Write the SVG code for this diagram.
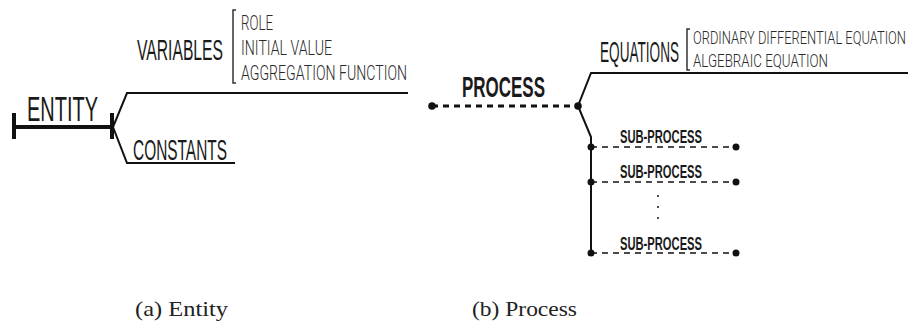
<svg xmlns="http://www.w3.org/2000/svg" width="910" height="331" viewBox="0 0 910 331">
<style>
.lbl{font-family:"Liberation Sans Narrow","Liberation Sans",sans-serif;fill:#1a1a1a}
.med{font-weight:400}
.bold{font-weight:700}
.lite{font-family:Roboto,"Liberation Sans",sans-serif;font-weight:300;fill:#2a2a2a}
.cap{font-family:"Liberation Serif",serif;fill:#222}
.ln{stroke:#111;stroke-width:2;fill:none}
.thick{stroke:#111;stroke-width:4;fill:none}
.brk{stroke:#333;stroke-width:1.5;fill:none}
.dash1{stroke:#111;stroke-width:3;stroke-dasharray:6 5;fill:none}
.dash2{stroke:#111;stroke-width:1.6;stroke-dasharray:6 5;fill:none}
.dot{fill:#111}
</style>
<g id="connectors">
  <line class="thick" x1="14" y1="127" x2="112" y2="127"/>
  <line class="thick" x1="14" y1="113" x2="14" y2="139"/>
  <line class="thick" x1="112" y1="113" x2="112" y2="139"/>
  <polyline class="ln" points="408,93 127,93 113,127 127,163 235,163"/>
  <path class="brk" d="M236,10 H233 V83 H236"/>
  <line class="dash1" x1="432" y1="106" x2="578" y2="106"/>
  <polyline class="ln" points="908,73 591,73 578,106 591,137 591,253"/>
  <path class="brk" d="M690,29 H687 V70 H690"/>
  <line class="dash2" x1="591" y1="147" x2="736" y2="147"/>
  <line class="dash2" x1="591" y1="182" x2="736" y2="182"/>
  <line class="dash2" x1="591" y1="253" x2="736" y2="253"/>
  <circle class="dot" cx="432" cy="106" r="3.8"/>
  <circle class="dot" cx="578" cy="106" r="3.8"/>
  <circle class="dot" cx="591" cy="147" r="3.5"/>
  <circle class="dot" cx="591" cy="182" r="3.5"/>
  <circle class="dot" cx="591" cy="253" r="3.5"/>
  <circle class="dot" cx="736" cy="147" r="3.5"/>
  <circle class="dot" cx="736" cy="182" r="3.5"/>
  <circle class="dot" cx="736" cy="253" r="3.5"/>
  <circle class="dot" cx="658" cy="196" r="1"/>
  <circle class="dot" cx="658" cy="207" r="1"/>
  <circle class="dot" cx="658" cy="218" r="1"/>
</g>
<g id="entity">
  <text class="lbl med" x="27" y="121" font-size="35" textLength="71" lengthAdjust="spacingAndGlyphs">ENTITY</text>
</g>
<g id="variables">
  <text class="lbl med" x="137" y="60" font-size="30" textLength="86" lengthAdjust="spacingAndGlyphs">VARIABLES</text>
  <text class="lite" x="241" y="30" font-size="20" textLength="32" lengthAdjust="spacingAndGlyphs">ROLE</text>
  <text class="lite" x="241" y="55" font-size="20" textLength="91" lengthAdjust="spacingAndGlyphs">INITIAL VALUE</text>
  <text class="lite" x="241" y="80" font-size="20" textLength="166" lengthAdjust="spacingAndGlyphs">AGGREGATION  FUNCTION</text>
</g>
<g id="constants">
  <text class="lbl med" x="133" y="160" font-size="29" textLength="94" lengthAdjust="spacingAndGlyphs">CONSTANTS</text>
</g>
<g id="process">
  <text class="lbl bold" x="462" y="97" font-size="30" textLength="83" lengthAdjust="spacingAndGlyphs">PROCESS</text>
</g>
<g id="equations">
  <text class="lbl med" x="600" y="62" font-size="29" textLength="79" lengthAdjust="spacingAndGlyphs">EQUATIONS</text>
  <text class="lite" x="693" y="44" font-size="19" textLength="213" lengthAdjust="spacingAndGlyphs">ORDINARY DIFFERENTIAL EQUATION</text>
  <text class="lite" x="693" y="67" font-size="19" textLength="135" lengthAdjust="spacingAndGlyphs">ALGEBRAIC  EQUATION</text>
</g>
<g id="subprocess1">
  <text class="lbl bold" x="620" y="143" font-size="19" textLength="82" lengthAdjust="spacingAndGlyphs">SUB-PROCESS</text>
</g>
<g id="subprocess2">
  <text class="lbl bold" x="620" y="178" font-size="19" textLength="82" lengthAdjust="spacingAndGlyphs">SUB-PROCESS</text>
</g>
<g id="subprocess3">
  <text class="lbl bold" x="620" y="250" font-size="19" textLength="82" lengthAdjust="spacingAndGlyphs">SUB-PROCESS</text>
</g>
<g id="captions">
  <text class="cap" x="135" y="316" font-size="22" textLength="93" lengthAdjust="spacingAndGlyphs">(a) Entity</text>
  <text class="cap" x="472" y="316" font-size="22" textLength="105" lengthAdjust="spacingAndGlyphs">(b) Process</text>
</g>
</svg>
